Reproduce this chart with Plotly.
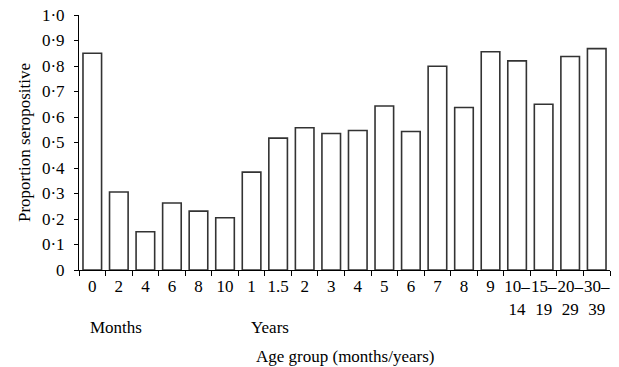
import plotly.graph_objects as go

categories = ["0", "2", "4", "6", "8", "10", "1", "1.5", "2 ", "3", "4 ", "5", "6 ", "7", "8 ", "9",
              "10–14", "15–19", "20–29", "30–39"]
tick_labels = ["0", "2", "4", "6", "8", "10", "1", "1.5", "2", "3", "4", "5", "6", "7", "8", "9",
               "10–<br>14", "15–<br>19", "20–<br>29", "30–<br>39"]
values = [0.85, 0.306, 0.15, 0.263, 0.231, 0.205, 0.384, 0.517, 0.558, 0.535, 0.547, 0.643,
          0.543, 0.799, 0.637, 0.856, 0.820, 0.650, 0.837, 0.868]
y_ticks = [0, 0.1, 0.2, 0.3, 0.4, 0.5, 0.6, 0.7, 0.8, 0.9, 1.0]
y_tick_labels = ["0", "0·1", "0·2", "0·3", "0·4", "0·5", "0·6", "0·7", "0·8", "0·9", "1·0"]

font = dict(family="Liberation Serif", size=17, color="black")

fig = go.Figure(go.Bar(
    x=categories, y=values,
    marker=dict(color="white", line=dict(color="#333333", width=1.6)),
))

fig.update_layout(
    width=619, height=367,
    margin=dict(l=79, r=9, t=15, b=97),
    paper_bgcolor="white", plot_bgcolor="white",
    font=font, showlegend=False, bargap=0.3,
    xaxis=dict(type="category", tickson="boundaries", ticks="outside", ticklen=5,
               tickcolor="black", tickwidth=1, showline=True, linecolor="black", linewidth=1,
               tickmode="array", tickvals=categories, ticktext=tick_labels,
               tickangle=0, showgrid=False, zeroline=False, ticklabelstandoff=1,
               automargin=False, ticklabeloverflow="allow"),
    yaxis=dict(range=[0, 1.0], tickvals=y_ticks, ticktext=y_tick_labels, ticks="outside",
               ticklen=4, tickcolor="black", showline=True, linecolor="black", linewidth=1,
               showgrid=False, zeroline=False, ticklabelstandoff=6, automargin=False,
               ticklabeloverflow="allow",
               title=dict(text="Proportion seropositive", font=font, standoff=6)),
    annotations=[
        dict(text="Months", xref="paper", yref="paper", x=0.017, y=-0.227,
             xanchor="left", yanchor="middle", showarrow=False, font=font),
        dict(text="Years", xref="paper", yref="paper", x=0.32, y=-0.227,
             xanchor="left", yanchor="middle", showarrow=False, font=font),
        dict(text="Age group (months/years)", xref="paper", yref="paper", x=0.5, y=-0.341,
             xanchor="center", yanchor="middle", showarrow=False, font=font),
    ],
)

fig.write_html("out.html", config={"displayModeBar": False},
               post_script="document.body.style.margin='0';document.body.style.overflow='hidden';")
